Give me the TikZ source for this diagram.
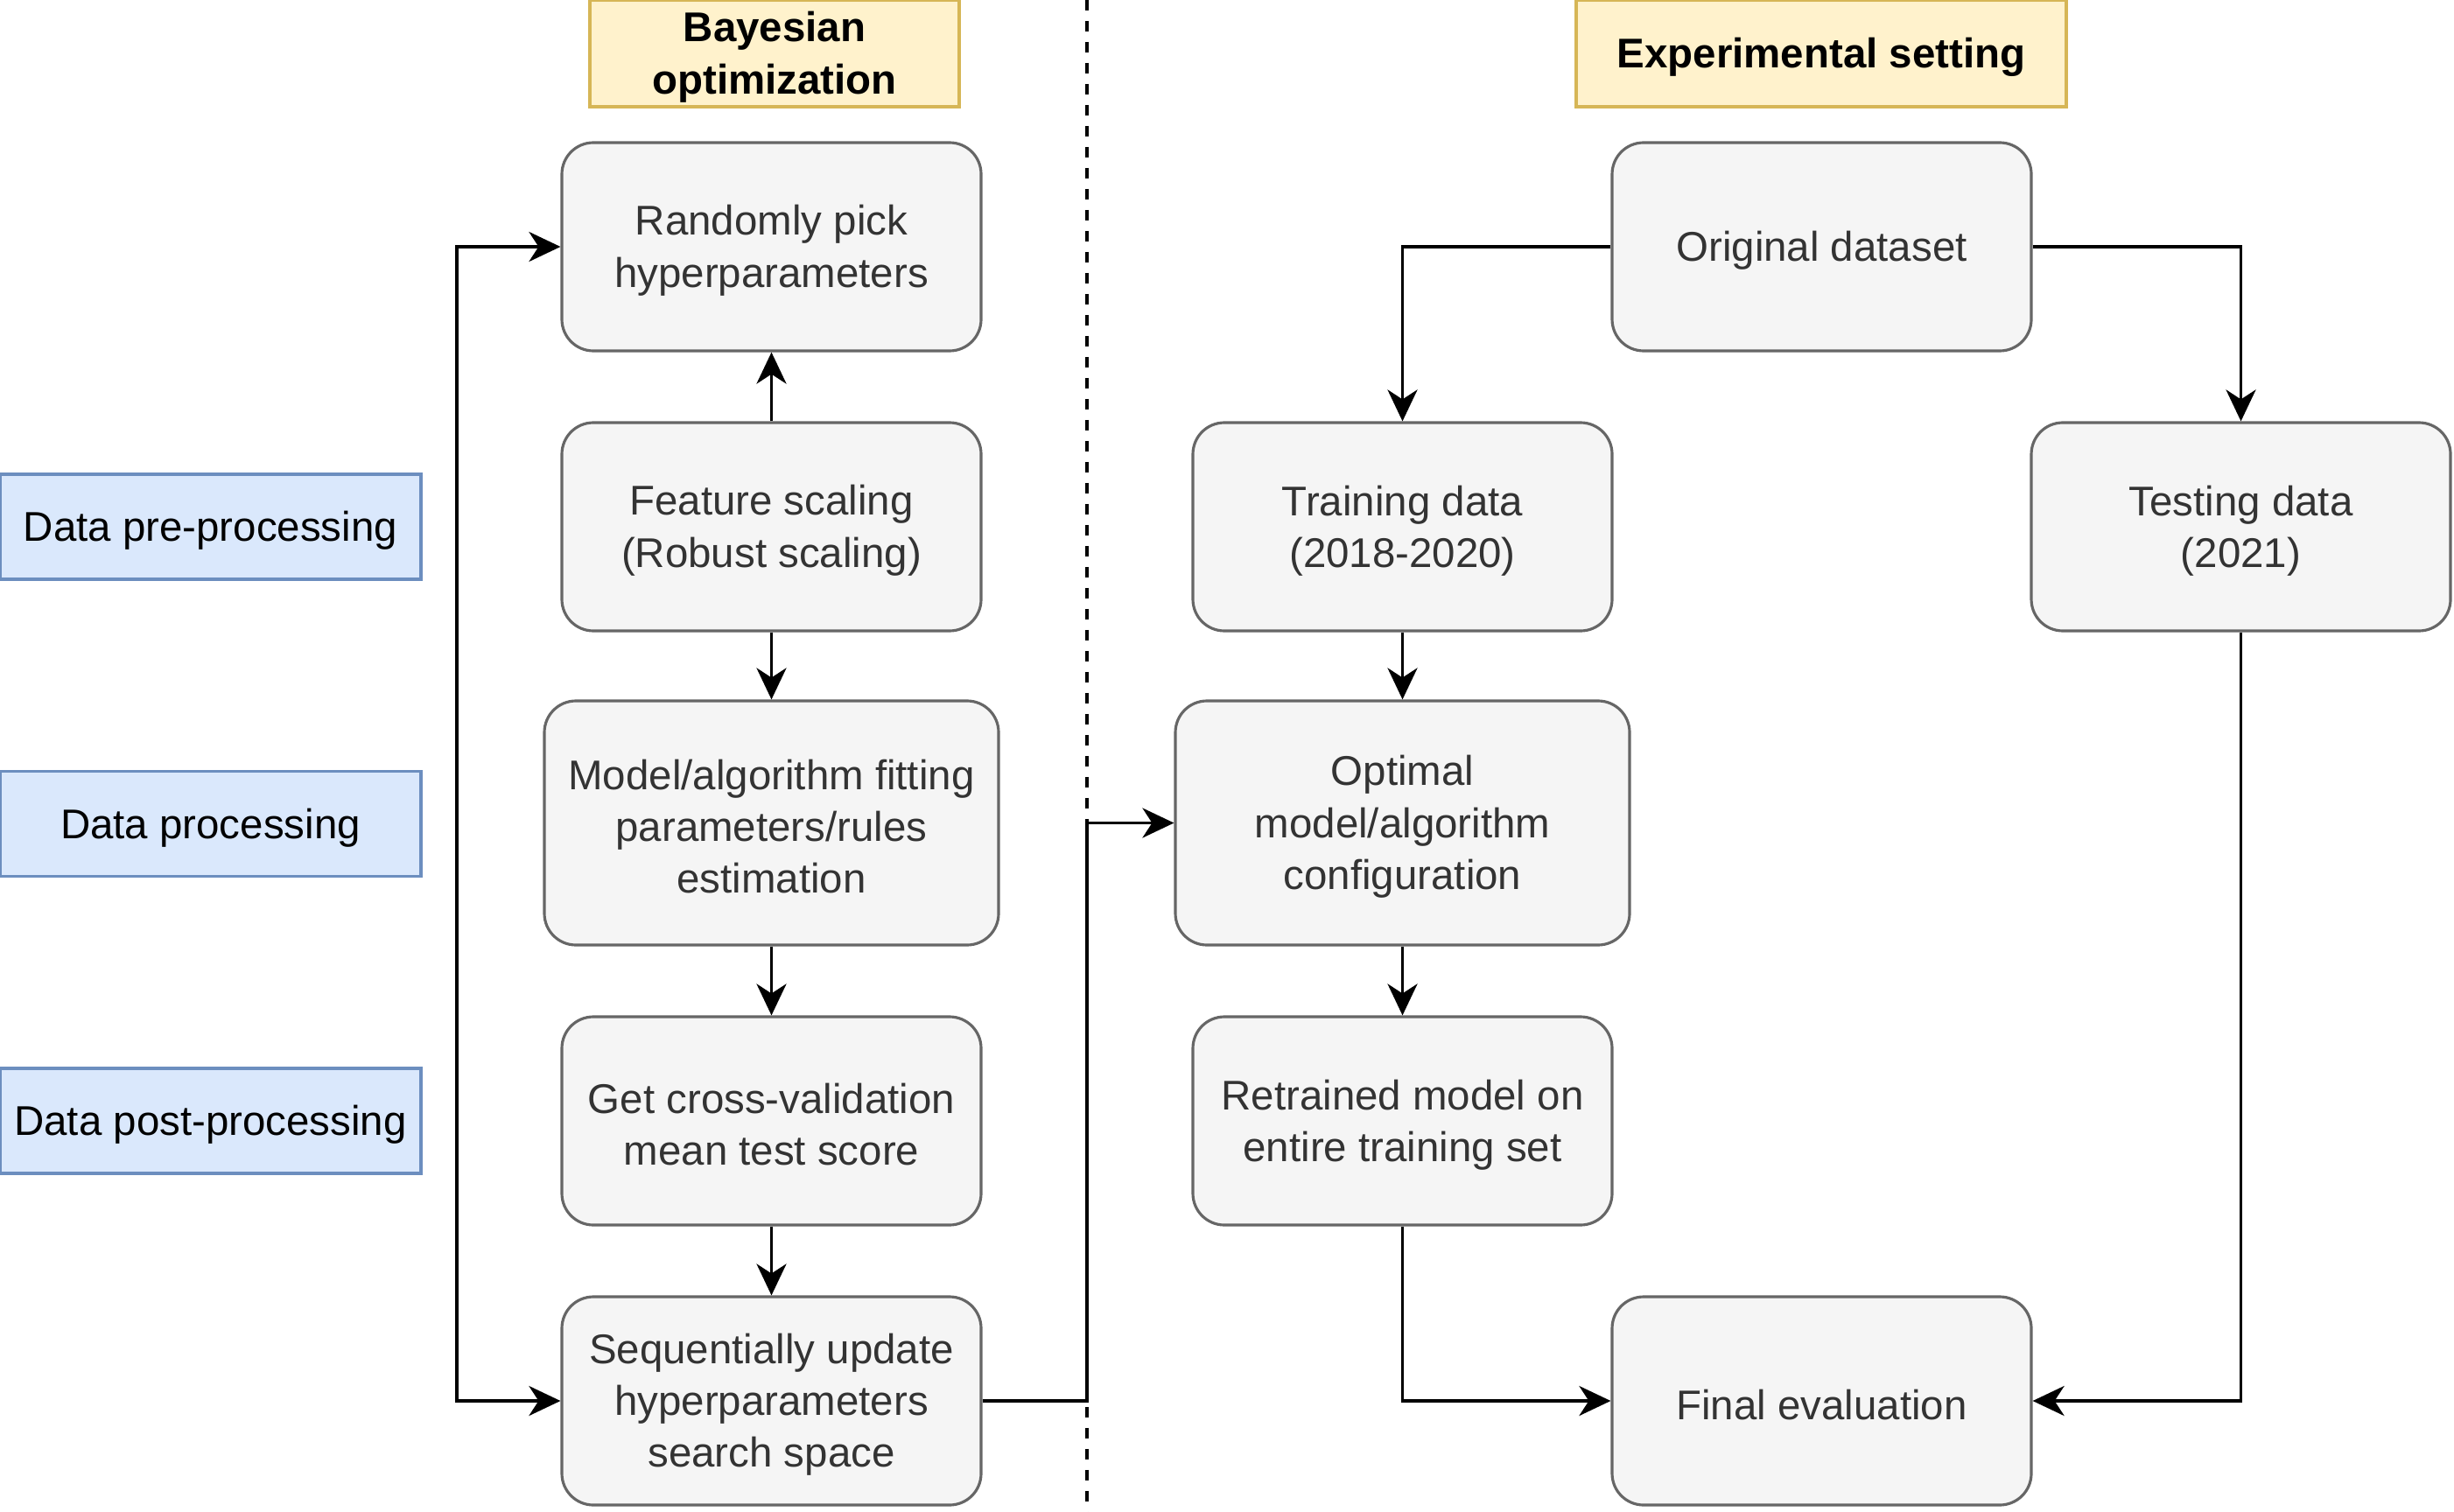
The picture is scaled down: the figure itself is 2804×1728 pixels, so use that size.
\documentclass[tikz,border=0pt]{standalone}
\usepackage{fontspec}
\setmainfont{Liberation Sans}
\usetikzlibrary{arrows.meta}
\definecolor{boxfill}{HTML}{F5F5F5}
\definecolor{boxdraw}{HTML}{666666}
\definecolor{boxtext}{HTML}{333333}
\definecolor{bluefill}{HTML}{DAE8FC}
\definecolor{bluedraw}{HTML}{6C8EBF}
\definecolor{yelfill}{HTML}{FFF2CC}
\definecolor{yeldraw}{HTML}{D6B656}
\newcommand{\firstln}{\rule{0pt}{12.2pt}}
\begin{document}
\begin{tikzpicture}[x=0.1mm,y=-0.1mm,
  txt/.style={font=\fontsize{13.5}{16.8}\selectfont, execute at begin node={\firstln}},
  procbox/.style={txt, draw=boxdraw, fill=boxfill, text=boxtext, rounded corners=3.6mm,
    line width=0.9pt, minimum width=47.9mm, minimum height=23.8mm, align=center, inner sep=0pt},
  widebox/.style={procbox, minimum width=51.9mm, minimum height=27.9mm},
  stagebox/.style={txt, draw=bluedraw, fill=bluefill, text=black, line width=1pt,
    minimum width=48.1mm, minimum height=12mm, inner sep=0pt},
  headbox/.style={txt, font=\fontsize{13.5}{16.8}\selectfont\bfseries, draw=yeldraw, fill=yelfill,
    text=black, line width=1pt, minimum height=12.2mm, align=center, inner sep=0pt},
  conn/.style={line width=1.1pt, -{Stealth[length=3.6mm,width=3.4mm,inset=1.1mm]}},
  both/.style={line width=1.1pt, {Stealth[length=3.6mm,width=3.4mm,inset=1.1mm]}-{Stealth[length=3.6mm,width=3.4mm,inset=1.1mm]}}
]
\useasboundingbox (0,0) rectangle (2804,1728);

% dashed separator
\draw[line width=1.1pt, dash pattern=on 1.2mm off 1.2mm] (1242,0) -- (1242,1728);

% headers
\node[headbox, minimum width=42.2mm] (bayes) at (885,61) {\firstln Bayesian\\optimization};
\node[headbox, minimum width=56mm] (exp) at (2081,61) {Experimental setting};

% left column
\node[procbox] (rand) at (881.5,282) {\firstln Randomly pick\\hyperparameters};
\node[procbox] (feat) at (881.5,602) {\firstln Feature scaling\\(Robust scaling)};
\node[widebox] (model) at (881.5,940.5) {\firstln Model/algorithm fitting\\parameters/rules\\estimation};
\node[procbox] (cv) at (881.5,1281) {\firstln Get cross-validation\\mean test score};
\node[procbox] (seq) at (881.5,1601) {\firstln Sequentially update\\hyperparameters\\search space};

% stage labels
\node[stagebox] (pre) at (240.5,602) {Data pre-processing};
\node[stagebox] (proc) at (240.5,941.5) {Data processing};
\node[stagebox] (post) at (240.5,1281) {Data post-processing};

% right side
\node[procbox] (orig) at (2081.5,282) {Original dataset};
\node[procbox] (train) at (1602.5,602) {\firstln Training data\\(2018-2020)};
\node[procbox] (test) at (2560.5,602) {\firstln Testing data\\(2021)};
\node[widebox] (opt) at (1602.5,940.5) {\firstln Optimal\\model/algorithm\\configuration};
\node[procbox] (ret) at (1602.5,1281) {\firstln Retrained model on\\entire training set};
\node[procbox] (final) at (2081.5,1601) {Final evaluation};

% coordinates
\coordinate (loop) at (522,0);
\coordinate (bridge) at (1242,0);

% left connectors
\draw[conn] (feat.north) -- (rand.south);
\draw[conn] (feat.south) -- (model.north);
\draw[conn] (model.south) -- (cv.north);
\draw[conn] (cv.south) -- (seq.north);
\draw[both] (rand.west) -- (rand.west -| loop) -- (seq.west -| loop) -- (seq.west);
\draw[conn] (seq.east) -- (seq.east -| bridge) -- (opt.west -| bridge) -- (opt.west);

% right connectors
\draw[conn] (orig.west) -| (train.north);
\draw[conn] (orig.east) -| (test.north);
\draw[conn] (train.south) -- (opt.north);
\draw[conn] (opt.south) -- (ret.north);
\draw[conn] (ret.south) |- (final.west);
\draw[conn] (test.south) |- (final.east);
\end{tikzpicture}
\end{document}
